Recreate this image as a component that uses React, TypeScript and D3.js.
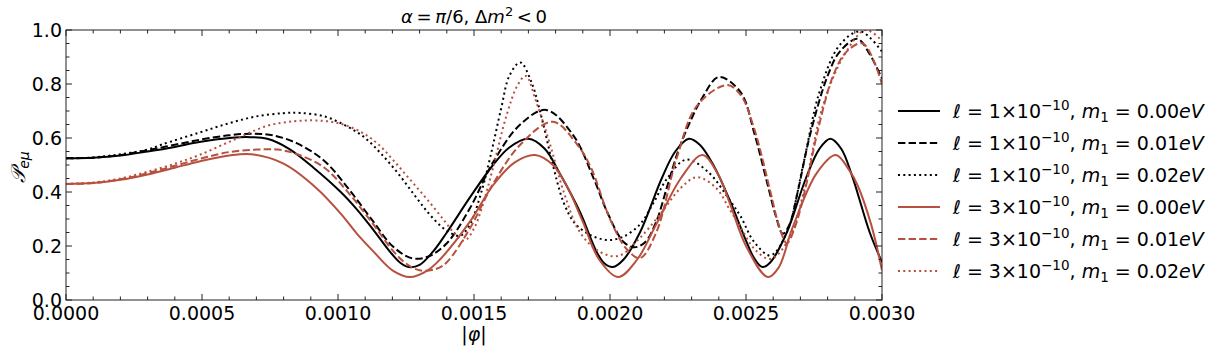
import React from "react";
import * as d3 from "d3";

// |phi| in units of 1e-4, P_e_mu
const blackSolid: [number, number][] = [
  [0, 0.525], [1, 0.527], [2, 0.535], [3, 0.55], [4, 0.567], [4.9, 0.585], [6.1, 0.601], [6.8, 0.603],
  [7.4, 0.597], [8.2, 0.56], [9.1, 0.49], [10.1, 0.4], [10.7, 0.335], [11.3, 0.26], [11.9, 0.18],
  [12.3, 0.137], [12.6, 0.122], [13.0, 0.13], [13.5, 0.18], [14.0, 0.25], [14.85, 0.38], [15.7, 0.5],
  [16.3, 0.565], [17.0, 0.597], [17.6, 0.56], [18.2, 0.46], [18.9, 0.325], [19.5, 0.18], [19.8, 0.135],
  [20.1, 0.122], [20.5, 0.15], [21.1, 0.25], [21.9, 0.45], [22.4, 0.55], [22.9, 0.597], [23.3, 0.575],
  [23.8, 0.5], [24.4, 0.37], [25.0, 0.22], [25.3, 0.155], [25.6, 0.122], [25.9, 0.14], [26.5, 0.25],
  [27.2, 0.45], [27.7, 0.56], [28.1, 0.597], [28.5, 0.56], [28.9, 0.46], [29.55, 0.25], [30, 0.14],
];
const blackDashed: [number, number][] = [
  [0, 0.525], [1, 0.527], [2, 0.537], [3, 0.555], [4, 0.575], [5, 0.595], [6, 0.61], [6.8, 0.616],
  [7.6, 0.61], [8.5, 0.58], [9.5, 0.515], [10.4, 0.41], [11.3, 0.29], [12.0, 0.2], [12.7, 0.155],
  [13.3, 0.16], [14.0, 0.21], [14.85, 0.34], [15.7, 0.51], [16.7, 0.65], [17.65, 0.704], [18.65, 0.61],
  [19.4, 0.45], [19.9, 0.325], [20.5, 0.215], [20.9, 0.195], [21.3, 0.215], [21.7, 0.29], [22.1, 0.42],
  [22.5, 0.55], [22.9, 0.65], [23.4, 0.75], [24.0, 0.826], [24.8, 0.77], [25.3, 0.62], [25.8, 0.425],
  [26.1, 0.31], [26.35, 0.245], [26.6, 0.28], [26.9, 0.4], [27.35, 0.61], [28.0, 0.83], [28.45, 0.92],
  [29.1, 0.967], [29.55, 0.91], [30, 0.82],
];
const blackDotted: [number, number][] = [
  [0, 0.525], [1, 0.528], [2, 0.54], [3, 0.557], [3.5, 0.575], [4.9, 0.62], [6, 0.655], [7, 0.68],
  [8, 0.692], [8.6, 0.693], [9.5, 0.68], [10.3, 0.645], [11.0, 0.6], [11.6, 0.54], [12.2, 0.47],
  [12.8, 0.39], [13.3, 0.325], [13.8, 0.272], [14.2, 0.245], [14.5, 0.238], [14.85, 0.28], [15.3, 0.41],
  [15.6, 0.53], [16.0, 0.71], [16.3, 0.83], [16.7, 0.88], [17.1, 0.81], [17.5, 0.67], [17.9, 0.5],
  [18.3, 0.36], [18.7, 0.285], [19.2, 0.245], [19.6, 0.228], [20.0, 0.222], [20.5, 0.235], [21.1, 0.28],
  [21.6, 0.36], [22.1, 0.45], [22.8, 0.52], [23.6, 0.475], [24.4, 0.37], [24.8, 0.31], [25.3, 0.215],
  [25.9, 0.165], [26.5, 0.25], [27.1, 0.5], [27.7, 0.77], [28.45, 0.945], [29.2, 0.995], [30, 0.92],
];
const redSolid: [number, number][] = [
  [0, 0.43], [1, 0.433], [2, 0.445], [3, 0.465], [4, 0.49], [4.9, 0.513], [6.0, 0.535], [6.8, 0.54],
  [8.0, 0.505], [9.2, 0.415], [10.1, 0.32], [10.7, 0.245], [11.3, 0.18], [12.0, 0.11], [12.65, 0.085],
  [13.3, 0.11], [13.75, 0.15], [14.85, 0.29], [15.7, 0.425], [16.5, 0.51], [17.25, 0.537], [17.9, 0.5],
  [18.4, 0.425], [19.0, 0.29], [19.6, 0.15], [20.3, 0.085], [21.0, 0.15], [21.7, 0.28], [22.6, 0.45],
  [23.4, 0.537], [24.0, 0.46], [24.4, 0.36], [25.0, 0.2], [25.8, 0.085], [26.2, 0.12], [26.7, 0.265],
  [27.6, 0.47], [28.3, 0.537], [28.8, 0.48], [29.1, 0.425], [29.6, 0.28], [30, 0.11],
];
const redDashed: [number, number][] = [
  [0, 0.43], [1, 0.433], [2, 0.447], [3, 0.47], [4, 0.497], [5, 0.525], [6, 0.548], [7, 0.557],
  [7.8, 0.557], [8.5, 0.54], [9.5, 0.49], [10.4, 0.395], [11.3, 0.28], [12.0, 0.185], [12.5, 0.135],
  [13.0, 0.11], [13.6, 0.115], [14.0, 0.14], [14.85, 0.265], [15.7, 0.43], [16.7, 0.575], [17.9, 0.66],
  [18.8, 0.575], [19.3, 0.49], [20.0, 0.3], [20.6, 0.19], [21.1, 0.155], [21.7, 0.25], [22.45, 0.525],
  [23.2, 0.72], [24.3, 0.796], [24.8, 0.76], [25.3, 0.635], [25.9, 0.4], [26.2, 0.28], [26.5, 0.21],
  [26.8, 0.27], [27.2, 0.42], [27.6, 0.61], [28.2, 0.83], [28.7, 0.92], [29.3, 0.95], [30, 0.8],
];
const redDotted: [number, number][] = [
  [0, 0.43], [1, 0.435], [2, 0.45], [3, 0.475], [4, 0.505], [4.9, 0.537], [6.1, 0.59], [7.4, 0.645],
  [8.4, 0.662], [9.2, 0.665], [10.0, 0.655], [10.8, 0.625], [11.5, 0.575], [12.1, 0.51], [12.7, 0.44],
  [13.3, 0.37], [13.9, 0.295], [14.3, 0.245], [14.65, 0.22], [15.0, 0.265], [15.3, 0.345], [15.7, 0.49],
  [16.2, 0.685], [16.6, 0.795], [16.9, 0.83], [17.3, 0.73], [17.8, 0.575], [18.3, 0.4], [18.9, 0.25],
  [19.6, 0.18], [20.3, 0.163], [21.1, 0.23], [21.9, 0.325], [22.6, 0.415], [23.2, 0.455], [23.9, 0.415],
  [24.4, 0.335], [24.8, 0.27], [25.3, 0.19], [25.9, 0.152], [26.6, 0.23], [27.2, 0.435], [27.8, 0.71],
  [28.6, 0.905], [29.4, 1.0], [30, 0.96],
];

const ellValues = ["1", "1", "1", "3", "3", "3"];
const massValues = ["0.00", "0.01", "0.02", "0.00", "0.01", "0.02"];
const xTicks = [0, 5, 10, 15, 20, 25, 30];
const yTicks = [0, 0.2, 0.4, 0.6, 0.8, 1.0];

const RED = "#b8503f";
const BLACK = "#000";

const series = [
  { data: blackSolid, color: BLACK, dash: "" },
  { data: blackDashed, color: BLACK, dash: "7.4,3.2" },
  { data: blackDotted, color: BLACK, dash: "2,3.3" },
  { data: redSolid, color: RED, dash: "" },
  { data: redDashed, color: RED, dash: "7.4,3.2" },
  { data: redDotted, color: RED, dash: "2,3.3" },
];

const FONT = "'DejaVu Sans', sans-serif";

export default function App() {
  document.body.style.margin = "0";
  const left = 66, right = 882, top = 30, bottom = 300;
  const x = d3.scaleLinear().domain([0, 30]).range([left, right]);
  const y = d3.scaleLinear().domain([0, 1]).range([bottom, top]);
  const line = d3
    .line<[number, number]>()
    .x(d => x(d[0]))
    .y(d => y(d[1]))
    .curve(d3.curveCatmullRom.alpha(0.5));

  const xMinor = d3.range(0, 31, 1).filter(v => v % 5 !== 0);
  const yMinor = d3.range(0, 1.001, 0.05).filter(v => Math.abs(v * 5 - Math.round(v * 5)) > 0.01);

  return (
    <svg width={1216} height={355} style={{ display: "block" }} fontFamily={FONT}>
      <defs>
        <clipPath id="plotclip">
          <rect x={left} y={top} width={right - left} height={bottom - top} />
        </clipPath>
      </defs>
      <rect width={1216} height={355} fill="#fff" />
      <g clipPath="url(#plotclip)">
        {series.map((s, i) => (
          <path
            key={i}
            d={line(s.data) || ""}
            fill="none"
            stroke={s.color}
            strokeWidth={2}
            strokeDasharray={s.dash || undefined}
          />
        ))}
      </g>
      {/* frame and ticks */}
      <rect x={left} y={top} width={right - left} height={bottom - top} fill="none" stroke="#222" strokeWidth={1} />
      <g stroke="#222" strokeWidth={1}>
        {xTicks.map(v => (
          <g key={"xt" + v}>
            <line x1={x(v)} x2={x(v)} y1={bottom} y2={bottom - 6} />
            <line x1={x(v)} x2={x(v)} y1={top} y2={top + 6} />
          </g>
        ))}
        {xMinor.map(v => (
          <g key={"xm" + v}>
            <line x1={x(v)} x2={x(v)} y1={bottom} y2={bottom - 3.5} />
            <line x1={x(v)} x2={x(v)} y1={top} y2={top + 3.5} />
          </g>
        ))}
        {yTicks.map(v => (
          <g key={"yt" + v}>
            <line x1={left} x2={left + 6} y1={y(v)} y2={y(v)} />
            <line x1={right} x2={right - 6} y1={y(v)} y2={y(v)} />
          </g>
        ))}
        {yMinor.map(v => (
          <g key={"ym" + v}>
            <line x1={left} x2={left + 3.5} y1={y(v)} y2={y(v)} />
            <line x1={right} x2={right - 3.5} y1={y(v)} y2={y(v)} />
          </g>
        ))}
      </g>
      <g fontSize={19} fill="#000">
        {xTicks.map(v => (
          <text key={"xl" + v} x={x(v)} y={bottom + 20} textAnchor="middle">
            {(v * 1e-4).toFixed(4)}
          </text>
        ))}
        {yTicks.map(v => (
          <text key={"yl" + v} x={left - 4} y={y(v) + 7} textAnchor="end">
            {v.toFixed(1)}
          </text>
        ))}
      </g>
      {/* title */}
      <text x={(left + right) / 2} y={23} textAnchor="middle" fontSize={18}>
        <tspan fontStyle="italic">α</tspan>
        <tspan>{"\u2009=\u2009"}</tspan>
        <tspan fontStyle="italic">π</tspan>
        <tspan>{"/6, Δ"}</tspan>
        <tspan fontStyle="italic">m</tspan>
        <tspan dy={-7} fontSize={13}>2</tspan>
        <tspan dy={7}>{"\u2009<\u20090"}</tspan>
      </text>
      {/* axis labels */}
      <text x={(left + right) / 2} y={341} textAnchor="middle" fontSize={19}>
        |<tspan fontStyle="italic">φ</tspan>|
      </text>
      <text transform="translate(25,167) rotate(-90)" textAnchor="middle" fontSize={20}>
        <tspan fontStyle="italic">𝒫</tspan>
        <tspan dy={4} fontSize={14} fontStyle="italic">eμ</tspan>
      </text>
      {/* legend */}
      <g>
        {series.map((s, i) => {
          const ry = 111 + 32 * i;
          return (
            <g key={"lg" + i}>
              <line x1={898} x2={940} y1={ry} y2={ry} stroke={s.color} strokeWidth={2}
                strokeDasharray={s.dash || undefined} />
              <text x={953} y={ry + 7} fontSize={19}>
                <tspan fontStyle="italic">ℓ</tspan>
                <tspan>{" = " + ellValues[i] + "×10"}</tspan>
                <tspan dy={-8} fontSize={13.5}>−10</tspan>
                <tspan dy={8}>{", "}</tspan>
                <tspan fontStyle="italic">m</tspan>
                <tspan dy={4} fontSize={13.5}>1</tspan>
                <tspan dy={-4}>{" = " + massValues[i]}</tspan>
                <tspan fontStyle="italic">eV</tspan>
              </text>
            </g>
          );
        })}
      </g>
    </svg>
  );
}
